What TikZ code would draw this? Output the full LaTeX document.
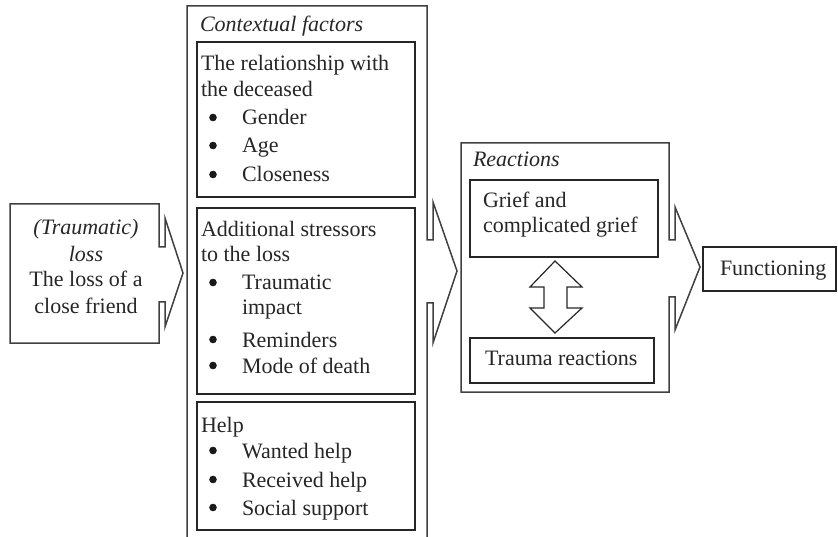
\documentclass[tikz,border=0pt]{standalone}
\usepackage{fontspec}
\setmainfont{Liberation Serif}
\begin{document}
\begin{tikzpicture}[x=1pt,y=-1pt,
  inbox/.style={draw=black!85,line width=1.2pt,inner sep=0pt,outer sep=0pt},
  outshape/.style={draw=black!75,line width=1.5pt,line join=miter},
  txt/.style={inner sep=0pt,outer sep=0pt,text=black!85,font=\fontsize{22}{26}\selectfont,anchor=base west},
  ctxt/.style={txt,anchor=base},
  itxt/.style={txt,font=\fontsize{22}{26}\selectfont\itshape},
  bulletdot/.style={circle,fill=black!90,inner sep=0pt,minimum size=7.6pt}]
\path[use as bounding box] (0,0) rectangle (838,537);
\clip (0,0) rectangle (838,537);
\newcommand{\bulitem}[3]{\node[bulletdot] (#1b) at (213,#2-7.5) {};
  \node[txt] (#1) at (242,#2) {#3};}

% left callout: (Traumatic) loss
\draw[outshape] (10,204) -- (159,204) -- (159,247) -- (165,247) -- (165,218)
  -- (183,273) -- (165,327) -- (165,302) -- (159,302) -- (159,343) -- (10,343) -- cycle;
\node[itxt,anchor=base] (l1) at (86,235) {(Traumatic)};
\node[itxt,anchor=base] (l2) at (86,262) {loss};
\node[ctxt] (l3) at (86,287) {The loss of a};
\node[ctxt] (l4) at (86,313) {close friend};

% middle callout: contextual factors
\draw[outshape] (187,545) -- (187,6) -- (427,6) -- (427,240) -- (433,240) -- (433,202)
  -- (457,271) -- (433,343) -- (433,303) -- (427,303) -- (427,545);
\node[itxt] (ctx) at (200,32) {Contextual factors};

\node[inbox,minimum width=218pt,minimum height=155pt] (rel) at (306,119.5) {};
\node[txt] (r1) at (201,71) {The relationship with};
\node[txt] (r2) at (201,97) {the deceased};
\bulitem{r3}{125}{Gender}
\bulitem{r4}{153}{Age}
\bulitem{r5}{182}{Closeness}

\node[inbox,minimum width=218pt,minimum height=186pt] (str) at (306,301) {};
\node[txt] (s1) at (201,237) {Additional stressors};
\node[txt] (s2) at (201,262) {to the loss};
\bulitem{s3}{290}{Traumatic}
\node[txt] (s4) at (242,315) {impact};
\bulitem{s5}{347}{Reminders}
\bulitem{s6}{373}{Mode of death}

\node[inbox,minimum width=218pt,minimum height=128pt] (hlp) at (306,466) {};
\node[txt] (h1) at (201,432) {Help};
\bulitem{h2}{458}{Wanted help}
\bulitem{h3}{487}{Received help}
\bulitem{h4}{515}{Social support}

% right callout: reactions
\draw[outshape] (461,143) -- (669,143) -- (669,240) -- (675,240) -- (675,207)
  -- (700,267) -- (675,330) -- (675,297) -- (669,297) -- (669,392) -- (461,392) -- cycle;
\node[itxt] (rea) at (473,167) {Reactions};

\node[inbox,minimum width=188pt,minimum height=77pt] (grief) at (564,218.5) {};
\node[txt] (g1) at (483,208) {Grief and};
\node[txt] (g2) at (483,233) {complicated grief};

\node[inbox,minimum width=184pt,minimum height=45pt] (trauma) at (562,360.5) {};
\node[txt] (t1) at (485,365) {Trauma reactions};

% up-down arrow
\draw[inbox,line join=miter] (555,261) -- (582,287) -- (567,287) -- (567,308) -- (582,308)
  -- (555,333) -- (530,308) -- (544,308) -- (544,287) -- (530,287) -- cycle;

% functioning
\node[inbox,minimum width=133pt,minimum height=44pt] (func) at (769.5,269) {};
\node[txt] (f1) at (720,276) {Functioning};
\end{tikzpicture}
\end{document}
